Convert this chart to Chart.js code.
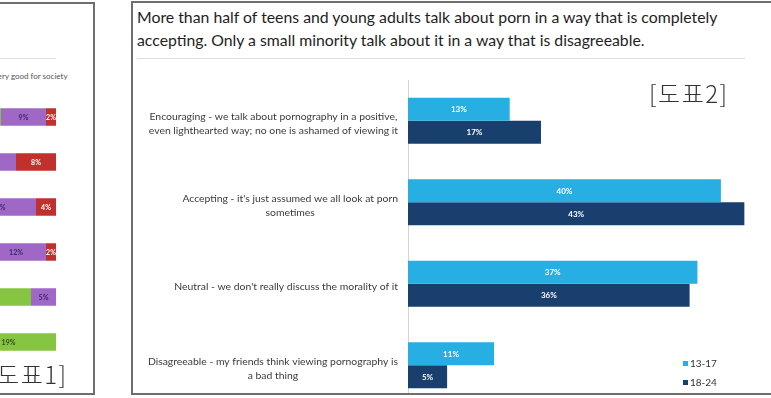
<!DOCTYPE html>
<html>
<head>
<meta charset="utf-8">
<script src="https://cdn.jsdelivr.net/npm/chart.js@4.4.1/dist/chart.umd.min.js"></script>
<style>
  html, body { margin:0; padding:0; }
  body { width:771px; height:398px; overflow:hidden; position:relative; background:#fff; font-family: Lato, "Open Sans", sans-serif; }
  .panel { position:absolute; box-sizing:border-box; border:2px solid #6e6e6e; overflow:hidden; background:#fff; }
  .abs { position:absolute; white-space:nowrap; }
  .tag { font-family:"Noto Sans CJK KR", sans-serif; font-weight:300; font-size:24px; letter-spacing:1.5px; line-height:1; color:#333; }
</style>
</head>
<body>
<script>
// ---------- Right chart data ----------
const categories = [
  ["Encouraging - we talk about pornography in a positive,", "even lighthearted way; no one is ashamed of viewing it"],
  ["Accepting - it's just assumed we all look at porn", "sometimes"],
  ["Neutral - we don't really discuss the morality of it"],
  ["Disagreeable - my friends think viewing pornography is", "a bad thing"]
];
const seriesNames = ["13-17", "18-24"];
const ages13to17 = [13, 40, 37, 11];
const ages18to24 = [17, 43, 36, 5];
const titleLines = [
  "More than half of teens and young adults talk about porn in a way that is completely",
  "accepting. Only a small minority talk about it in a way that is disagreeable."
];

// ---------- Left (cropped) chart data ----------
const leftRows = ["1", "2", "3", "4", "5", "6"];
const leftSeriesNames = ["Other", "Green", "Purple", "Very good for society"];
const leftOther  = [0, 0, 0, 0, 0, 81];
const leftGreen  = [89, 72, 81, 86, 95, 19];
const leftPurple = [9, 20, 15, 12, 5, 0];
const leftRed    = [2, 8, 4, 2, 0, 0];
</script>

<!-- left panel (cropped) -->
<div class="panel" id="leftPanel" style="left:-2px; top:2px; width:97px; height:393px; border-left:none;">
  <div class="abs" style="left:0; top:54px; width:58px; height:1px; background:#e2e2e2;"></div>
  <div class="abs" id="leftLegend" style="left:-5px; top:67px; font-size:8px; color:#555;"></div>
  <div class="abs" style="left:-450px; top:76px; width:520px; height:300px;"><canvas id="leftChart" width="520" height="300"></canvas></div>
  <div class="abs tag" style="left:-10px; top:358px;">[도표1]</div>
</div>

<!-- right panel -->
<div class="panel" id="rightPanel" style="left:131px; top:1px; width:700px; height:394px;">
  <div class="abs" id="title" style="left:4px; top:2px; font-size:15.8px; line-height:23px; color:#1e1e1e;"></div>
  <div class="abs" style="left:4px; top:55px; width:608px; height:1px; background:#dedede;"></div>
  <div class="abs" style="left:0; top:59px; width:640px; height:350px;"><canvas id="rightChart" width="640" height="350"></canvas></div>
  <div class="abs tag" style="left:516px; top:78px;">[도표2]</div>
  <div class="abs" id="legend" style="left:550px; top:351px; font-size:10px; color:#333; line-height:19px;"></div>
</div>

<script>
document.getElementById('title').innerHTML = titleLines.join('<br>');
document.getElementById('leftLegend').textContent = leftSeriesNames[3];

const rightColors = ["#27aee3", "#183f6e"];
document.getElementById('legend').innerHTML = seriesNames.map((n, i) =>
  `<div><span style="display:inline-block;width:5px;height:5px;background:${rightColors[i]};margin-right:2px;vertical-align:1px;"></span>${n}</div>`
).join('');

// Draw value labels centered inside each bar, from element positions
const barLabels = {
  id: 'barLabels',
  afterDatasetsDraw(chart, args, opts) {
    const ctx = chart.ctx;
    ctx.save();
    ctx.textAlign = 'center';
    ctx.textBaseline = 'middle';
    ctx.font = opts.font;
    chart.data.datasets.forEach((ds, di) => {
      const meta = chart.getDatasetMeta(di);
      meta.data.forEach((el, i) => {
        const v = ds.data[i];
        if (!v) return;
        const p = el.getProps(['x', 'y', 'base'], true);
        ctx.fillStyle = opts.colors[di];
        ctx.fillText(v + '%', (p.x + p.base) / 2, p.y + 0.5);
      });
    });
    ctx.restore();
  }
};

// Category labels: each block right-aligned, lines centered within block
const catLabels = {
  id: 'catLabels',
  afterDraw(chart, args, opts) {
    const ctx = chart.ctx;
    const ys = chart.scales.y;
    ctx.save();
    ctx.font = opts.font;
    ctx.fillStyle = opts.color;
    ctx.textAlign = 'center';
    ctx.textBaseline = 'middle';
    const right = chart.chartArea.left - opts.gap;
    chart.data.labels.forEach((lines, i) => {
      const yc = ys.getPixelForTick(i) + opts.offset;
      const w = Math.max(...lines.map(l => ctx.measureText(l).width));
      const cx = right - w / 2;
      lines.forEach((l, j) => {
        ctx.fillText(l, cx, yc + (j - (lines.length - 1) / 2) * opts.lineHeight);
      });
    });
    ctx.restore();
  }
};

new Chart(document.getElementById('rightChart'), {
  type: 'bar',
  data: {
    labels: categories,
    datasets: [
      { label: seriesNames[0], data: ages13to17, backgroundColor: rightColors[0] },
      { label: seriesNames[1], data: ages18to24, backgroundColor: rightColors[1] }
    ]
  },
  options: {
    indexAxis: 'y',
    responsive: false,
    animation: false,
    devicePixelRatio: 1,
    layout: { padding: { left: 275, right: 13, top: 18, bottom: 6 } },
    datasets: { bar: { categoryPercentage: 0.566, barPercentage: 1.0 } },
    scales: {
      x: { display: false, min: 0, max: 45 },
      y: {
        ticks: { display: false },
        grid: { display: false },
        border: { display: true, color: '#d4d4d4', width: 1 },
        afterFit(s) { s.width = 0; }
      }
    },
    plugins: {
      legend: { display: false },
      tooltip: { enabled: false },
      barLabels: { font: 'bold 8px Lato, sans-serif', colors: ['#ffffff', '#ffffff'] },
      catLabels: { font: '10.4px Lato, sans-serif', color: '#3a3a3a', gap: 10, lineHeight: 14, offset: 3 }
    }
  },
  plugins: [barLabels, catLabels]
});

new Chart(document.getElementById('leftChart'), {
  type: 'bar',
  data: {
    labels: leftRows,
    datasets: [
      { label: leftSeriesNames[0], data: leftOther,  backgroundColor: '#5b8a2e' },
      { label: leftSeriesNames[1], data: leftGreen,  backgroundColor: '#86c541' },
      { label: leftSeriesNames[2], data: leftPurple, backgroundColor: '#a068c6' },
      { label: leftSeriesNames[3], data: leftRed,    backgroundColor: '#c0302c' }
    ]
  },
  options: {
    indexAxis: 'y',
    responsive: false,
    animation: false,
    devicePixelRatio: 1,
    layout: { padding: { left: 8, right: 12, top: 14.5, bottom: 15.5 } },
    datasets: { bar: { categoryPercentage: 0.39, barPercentage: 1.0 } },
    scales: {
      x: { display: false, stacked: true, min: 0, max: 100 },
      y: { display: false, stacked: true }
    },
    plugins: {
      legend: { display: false },
      tooltip: { enabled: false },
      barLabels: { font: 'bold 7px Lato, sans-serif', colors: ['#ffffff', '#2f4a16', '#3b2a6a', '#ffffff'] }
    }
  },
  plugins: [barLabels]
});
</script>
</body>
</html>
